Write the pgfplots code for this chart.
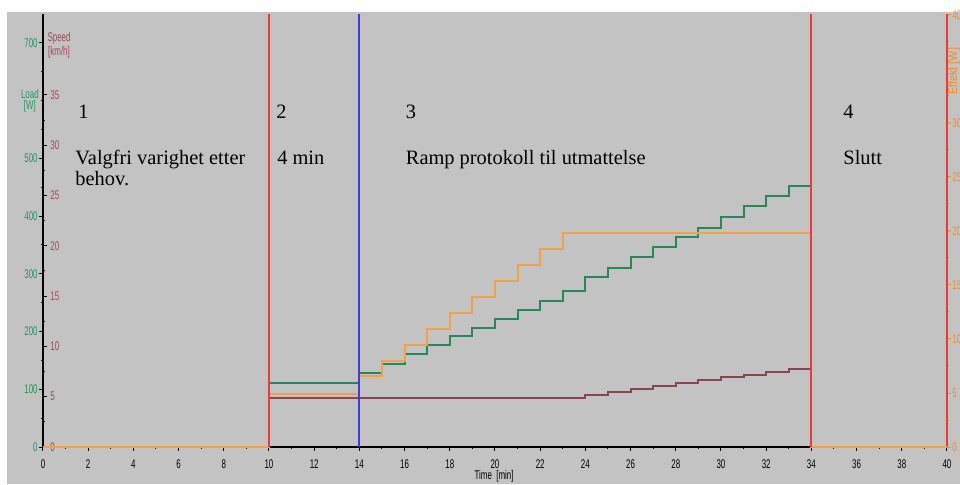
\documentclass[border=0pt]{standalone}
\usepackage{graphicx}
\usepackage{pgfplots}
\pgfplotsset{compat=1.18}
\usepackage{fontspec}
\setmainfont{Liberation Serif}
\newfontfamily\tickfont{Liberation Sans}
\definecolor{bg}{RGB}{195,195,195}
\definecolor{lgreen}{RGB}{40,135,90}
\definecolor{lorange}{RGB}{245,160,70}
\definecolor{lbrown}{RGB}{135,70,80}
\definecolor{lred}{RGB}{232,60,60}
\definecolor{lblue}{RGB}{60,60,215}
\definecolor{tgreen}{RGB}{30,150,100}
\definecolor{tbrown}{RGB}{160,70,85}
\definecolor{torange}{RGB}{240,140,40}
\newcommand{\nar}[1]{\scalebox{0.63}[1]{#1}}
\newcommand{\tf}{\tickfont\fontsize{6.3}{7}\selectfont}
\newcommand{\an}{\fontsize{10.2}{10.5}\selectfont}
\pgfplotsset{base/.style={scale only axis, width=452pt, height=216.5pt,
  xmin=0, xmax=40, ymin=0, clip=false,
  /pgf/number format/assume math mode=true,
  tick style={line width=0.5pt},
  major tick length=2pt, minor tick length=1pt}}
\begin{document}
\begin{tikzpicture}
\path[use as bounding box] (-21.5pt,-18.5pt) rectangle (458.5pt,223.5pt);
\fill[white] (-21.5pt,-18.5pt) rectangle (458.5pt,223.5pt);
\fill[bg] (-18pt,-18.5pt) rectangle (458.5pt,217.5pt);
% Load axis (left, green) + time axis
\begin{axis}[base, ymax=750,
  axis x line*=bottom, axis y line*=left,
  axis line style={black, line width=0.6pt},
  tick align=outside,
  xtick={0,2,...,40}, minor x tick num=1,
  ytick={0,100,200,300,400,500,700},
  minor ytick={50,150,250,350,450,550,600,650},
  xticklabel={\nar{\pgfmathprintnumber{\tick}}},
  yticklabel={\nar{\pgfmathprintnumber{\tick}}},
  xticklabel style={font=\tf, black, yshift=-1pt},
  yticklabel style={font=\tf, tgreen, inner sep=0.5pt},
  tick style={black}]
\addplot[const plot, lgreen, line width=1pt] coordinates {
(0,0)(10,111)(14,128)(15,144)(16,160.6)(17,176.7)(18,193)(19,205.7)(20,221)
(21,237)(22,253.5)(23,270.3)(24,295)(25,310.7)(26,329.7)(27,347)(28,363.4)
(29,380)(30,399)(31,417.6)(32,435)(33,452.8)(34,0)(40,0)};
\node[anchor=base west, inner sep=0, font=\an] at (axis cs:1.55,568.4) {1};
\node[anchor=base west, inner sep=0, font=\an] at (axis cs:1.42,489.5) {Valgfri varighet etter};
\node[anchor=base west, inner sep=0, font=\an] at (axis cs:1.42,453.1) {behov.};
\node[anchor=base west, inner sep=0, font=\an] at (axis cs:10.31,568.4) {2};
\node[anchor=base west, inner sep=0, font=\an] at (axis cs:10.35,489.5) {4 min};
\node[anchor=base west, inner sep=0, font=\an] at (axis cs:16.04,568.4) {3};
\node[anchor=base west, inner sep=0, font=\an] at (axis cs:16.04,489.5) {Ramp protokoll til utmattelse};
\node[anchor=base west, inner sep=0, font=\an] at (axis cs:35.4,568.4) {4};
\node[anchor=base west, inner sep=0, font=\an] at (axis cs:35.4,489.5) {Slutt};
\node[font=\tf, black, inner sep=0] at (axis cs:19.96,-51) {\nar{Time\ \ [min]}};
\node[font=\tf, tgreen, inner sep=0] at (axis cs:-0.58,612) {\nar{Load}};
\node[font=\tf, tgreen, inner sep=0] at (axis cs:-0.58,590) {\nar{[W]}};
\end{axis}
% Speed axis (left, brown labels to the right of the line)
\begin{axis}[base, ymax=43.04,
  axis x line=none, axis y line*=left,
  axis line style={black, line width=0.6pt},
  tick align=inside,
  ytick={0,5,...,35}, minor y tick num=1,
  yticklabel={\nar{\pgfmathprintnumber{\tick}}},
  yticklabel style={font=\tf, tbrown, anchor=west, inner sep=0.5pt, xshift=3pt},
  tick style={black}]
\addplot[const plot, lbrown, line width=1pt] coordinates {
(0,0)(10,4.84)(24,5.17)(25,5.44)(26,5.74)(27,6.06)(28,6.39)(29,6.66)(30,6.99)
(31,7.16)(32,7.49)(33,7.75)(34,0)(40,0)};
\node[font=\tf, tbrown, inner sep=0] at (axis cs:0.71,40.6) {\nar{Speed}};
\node[font=\tf, tbrown, inner sep=0] at (axis cs:0.71,39.2) {\nar{[km/h]}};
\end{axis}
% Right axis (orange)
\begin{axis}[base, ymax=40.09,
  axis x line=none, axis y line*=right,
  axis line style={lred, line width=0.75pt},
  tick align=outside,
  ytick={0,5,10,15,20,25,30,40}, minor ytick={2.5,7.5,...,37.5,35},
  yticklabel={\nar{\pgfmathprintnumber{\tick}}},
  yticklabel style={font=\tf, torange, inner sep=0.5pt},
  tick style={torange}]
\addplot[const plot, lorange, line width=1pt] coordinates {
(0,0)(10,4.88)(14,6.57)(15,7.96)(16,9.44)(17,10.9)(18,12.4)(19,13.86)(20,15.4)
(21,16.85)(22,18.33)(23,19.8)(34,0)(40,0)};
\addplot[draw=lred, line width=1pt, forget plot] coordinates {(10,0)(10,40.09)};
\addplot[draw=lblue, line width=1pt, forget plot] coordinates {(14,0)(14,40.09)};
\addplot[draw=lred, line width=1pt, forget plot] coordinates {(34,0)(34,40.09)};
\node[font=\tf, torange, inner sep=0, rotate=90] at (axis cs:40.3,34.8) {\scalebox{0.85}[1]{Effekt [W]}};
\end{axis}
\end{tikzpicture}
\end{document}
